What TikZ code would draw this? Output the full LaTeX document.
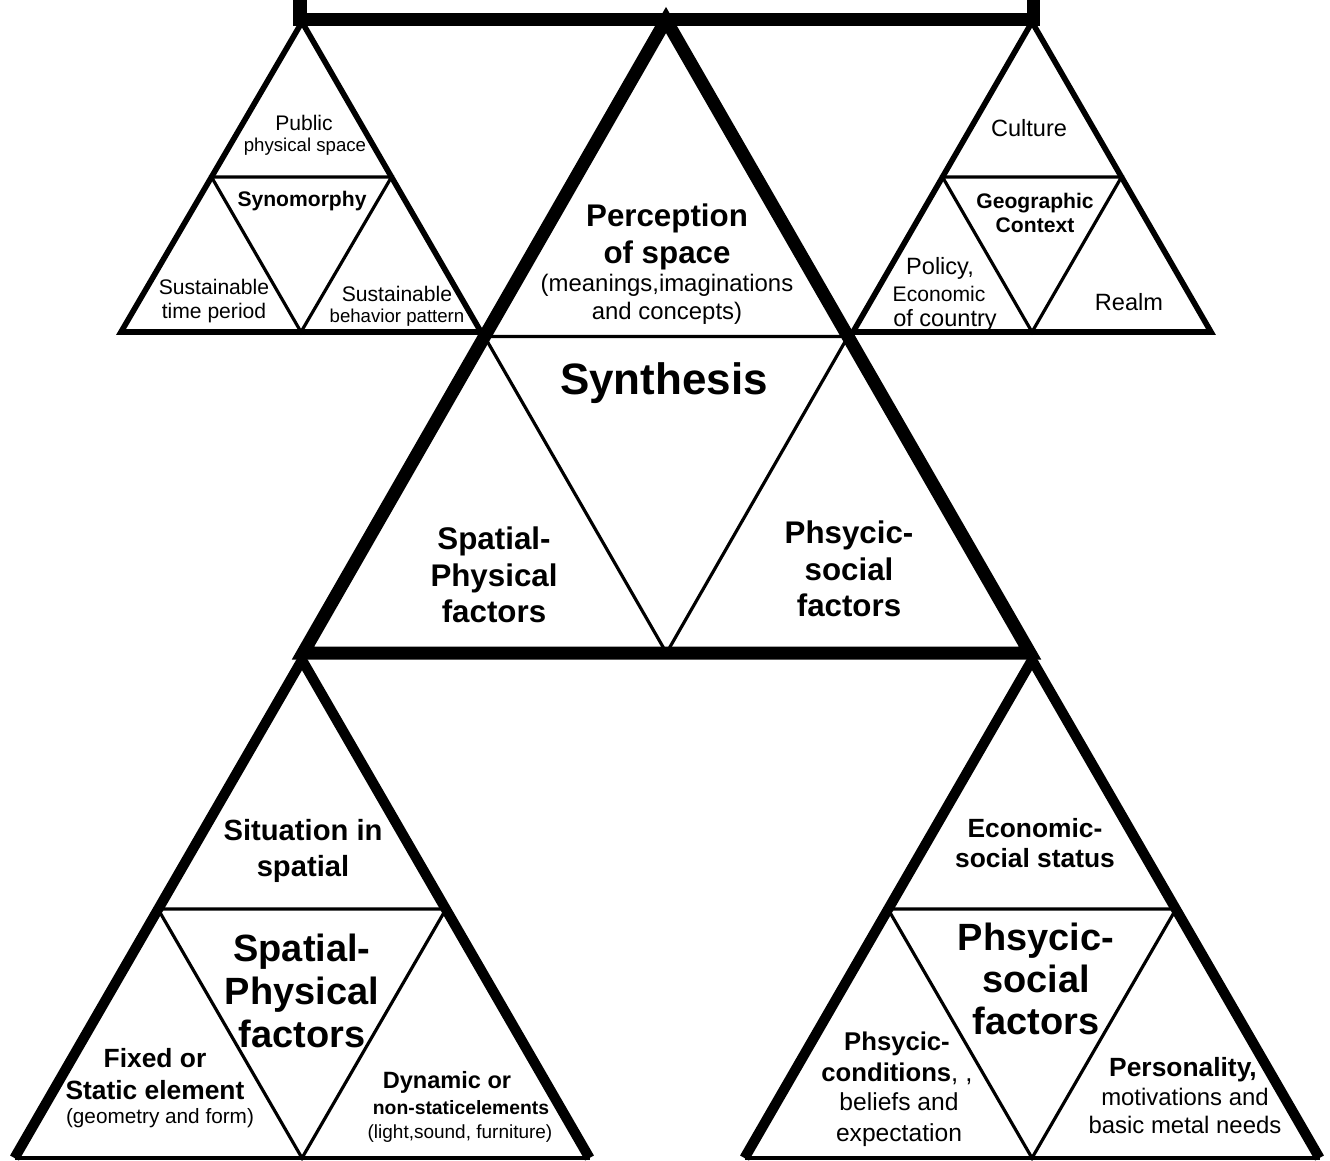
\documentclass[tikz,border=0pt]{standalone}
\usepackage{fontspec}
\setmainfont{Liberation Sans}
\newcommand\setfs[2]{\fontsize{#1}{#2}\selectfont}

\begin{document}
\begin{tikzpicture}
            [
                x=0.01cm, y=-0.01cm,
                heavy/.style={line width=3.7pt},
                rim/.style={line width=2.9pt},
                edge/.style={line width=1.6pt},
                inner/.style={line width=0.9pt},
                lbl/.style={align=center, inner sep=0pt}
            ]
            \useasboundingbox (0,0) rectangle (1330,1160);
            \clip (0,0) rectangle (1330,1160);

            \coordinate (boxtl) at (300,-40);
            \coordinate (boxbl) at (300,19);
            \coordinate (boxbr) at (1033,19);
            \coordinate (boxtr) at (1033,-40);

            \coordinate (bigtop) at (666,20);
            \coordinate (bigleft) at (303,653);
            \coordinate (bigright) at (1030,653);
            \coordinate (bigml) at (484.5,336.5);
            \coordinate (bigmr) at (848,336.5);
            \coordinate (bigmb) at (666.5,653);

            \coordinate (tltop) at (302,22);
            \coordinate (tlleft) at (121,332);
            \coordinate (tlright) at (481,332);
            \coordinate (tlml) at (211.5,177);
            \coordinate (tlmr) at (391.5,177);
            \coordinate (tlmb) at (301,332);

            \coordinate (trtop) at (1032,22);
            \coordinate (trleft) at (853,332);
            \coordinate (trright) at (1211,332);
            \coordinate (trml) at (942.5,177);
            \coordinate (trmr) at (1121.5,177);
            \coordinate (trmb) at (1032,332);

            \coordinate (bltop) at (302,660);
            \coordinate (blleft) at (14.5,1158);
            \coordinate (blright) at (589.5,1158);
            \coordinate (blml) at (158,909);
            \coordinate (blmr) at (446,909);
            \coordinate (blmb) at (302,1158);

            \coordinate (brtop) at (1032,660);
            \coordinate (brleft) at (744.5,1158);
            \coordinate (brright) at (1319.5,1158);
            \coordinate (brml) at (888,909);
            \coordinate (brmr) at (1176,909);
            \coordinate (brmb) at (1032,1158);

            \draw[heavy] (boxtl) -- (boxbl) -- (boxbr) -- (boxtr);

            \draw[inner] (bigml) -- (bigmr) -- (bigmb) -- cycle;
            \draw[heavy] (bigtop) -- (bigleft) -- (bigright) -- cycle;

            \draw[inner] (tlml) -- (tlmr) -- (tlmb) -- cycle;
            \draw[edge] (tltop) -- (tlleft) -- (tlright) -- cycle;

            \draw[inner] (trml) -- (trmr) -- (trmb) -- cycle;
            \draw[edge] (trtop) -- (trleft) -- (trright) -- cycle;

            \draw[inner] (blml) -- (blmr) -- (blmb) -- cycle;
            \draw[inner] (blleft) -- (blright);
            \draw[rim] (blleft) -- (bltop) -- (blright);

            \draw[inner] (brml) -- (brmr) -- (brmb) -- cycle;
            \draw[inner] (brleft) -- (brright);
            \draw[rim] (brleft) -- (brtop) -- (brright);

            \node[lbl, font=\setfs{6}{7}] (pubA) at (304,123) {Public};
            \node[lbl, font=\setfs{5.3}{6}] (pubB) at (305,147) {physical space};
            \node[lbl, font=\setfs{6}{7}\bfseries] (synomorphy) at (302,201) {Synomorphy};
            \node[lbl, font=\setfs{6}{7}] (timeperiod) at (214,301) {Sustainable\\time period};
            \node[lbl, font=\setfs{6}{7}] (behaviorA) at (397,294) {Sustainable};
            \node[lbl, font=\setfs{5.3}{6}] (behaviorB) at (397,318) {behavior pattern};

            \node[lbl, font=\setfs{6.7}{7.5}] (culture) at (1029,128) {Culture};
            \node[lbl, font=\setfs{6}{6.8}\bfseries] (geo) at (1035,213) {Geographic\\Context};
            \node[lbl, font=\setfs{6.7}{7.5}] (policyA) at (940,268) {Policy,};
            \node[lbl, font=\setfs{6}{7}] (policyB) at (939,294) {Economic};
            \node[lbl, font=\setfs{6.7}{7.5}] (policyC) at (945,320) {of country};
            \node[lbl, font=\setfs{6.7}{7.5}] (realm) at (1129,302) {Realm};

            \node[lbl, font=\setfs{8.9}{10.5}\bfseries] (perception) at (667,237) {Perception\\of space};
            \node[lbl, font=\setfs{6.8}{8}] (meanings) at (667,299) {(meanings,imaginations\\and concepts)};
            \node[lbl, font=\setfs{12.5}{14}\bfseries] (synthesis) at (664,383) {Synthesis};
            \node[lbl, font=\setfs{8.9}{10.3}\bfseries] (spatialmid) at (494,575) {Spatial-\\Physical\\factors};
            \node[lbl, font=\setfs{8.9}{10.3}\bfseries] (socialmid) at (849,569) {Phsycic-\\social\\factors};

            \node[lbl, font=\setfs{8.3}{10}\bfseries] (situation) at (303,851) {Situation in\\spatial};
            \node[lbl, font=\setfs{10.8}{12.2}\bfseries] (spatialbig) at (302,991) {Spatial-\\Physical\\factors};
            \node[lbl, font=\setfs{7.5}{9}\bfseries] (fixed) at (155,1074) {Fixed or\\Static element};
            \node[lbl, font=\setfs{5.9}{7}] (geometry) at (160,1118) {(geometry and form)};
            \node[lbl, font=\setfs{6.7}{7.5}\bfseries] (dynamicA) at (447,1082) {Dynamic or};
            \node[lbl, font=\setfs{5.5}{7}\bfseries] (dynamicB) at (461,1108) {non-staticelements};
            \node[lbl, font=\setfs{5.4}{7}] (dynamicC) at (460,1134) {(light,sound, furniture)};

            \node[lbl, font=\setfs{7.5}{8.5}\bfseries] (economic) at (1035,843) {Economic-\\social status};
            \node[lbl, font=\setfs{10.8}{12}\bfseries] (socialbig) at (1036,979) {Phsycic-\\social\\factors};
            \node[lbl, font=\setfs{7.3}{8.8}\bfseries] (conditions) at (897,1058) {Phsycic-\\conditions{\mdseries, ,}};
            \node[lbl, font=\setfs{7}{8.8}] (beliefs) at (899,1120) {beliefs and\\expectation};
            \node[lbl, font=\setfs{7.5}{8.5}\bfseries] (personality) at (1183,1070) {Personality,};
            \node[lbl, font=\setfs{6.8}{7.8}] (motivations) at (1185,1111) {motivations and\\basic metal needs};
\end{tikzpicture}
\end{document}
